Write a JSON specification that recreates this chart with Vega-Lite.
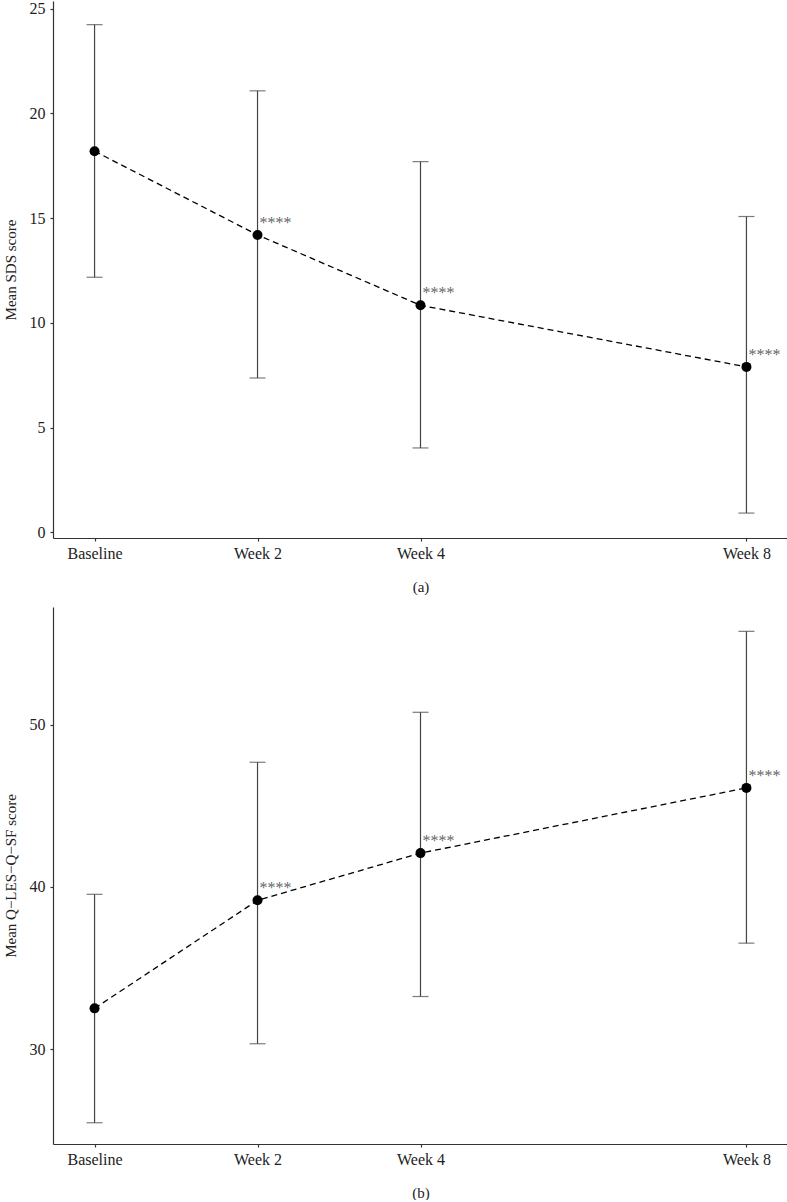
{
  "$schema": "https://vega.github.io/schema/vega-lite/v6.json",
  "padding": {"left": 3, "top": 0, "right": 0, "bottom": 0},
  "spacing": 13,
  "config": {
    "font": "Liberation Serif",
    "view": {"stroke": null},
    "axis": {
      "grid": false,
      "domainColor": "#333",
      "domainWidth": 1.2,
      "tickColor": "#333",
      "tickSize": 3,
      "tickWidth": 1.2,
      "labelFont": "Liberation Serif",
      "titleFont": "Liberation Serif",
      "labelFontSize": 16,
      "labelColor": "#222",
      "titleFontSize": 15,
      "titleFontWeight": "normal",
      "titleColor": "#222"
    },
    "axisY": {"labelPadding": 5, "titlePadding": 11},
    "axisX": {"labelPadding": 4, "titlePadding": 18}
  },
  "datasets": {
    "sds": [
      {"week": 0, "mean": 18.2, "lower": 12.18, "upper": 24.24, "sig": ""},
      {"week": 2, "mean": 14.2, "lower": 7.37, "upper": 21.08, "sig": "****"},
      {"week": 4, "mean": 10.84, "lower": 4.03, "upper": 17.7, "sig": "****"},
      {"week": 8, "mean": 7.9, "lower": 0.92, "upper": 15.08, "sig": "****"}
    ],
    "qles": [
      {"week": 0, "mean": 32.51, "lower": 25.46, "upper": 39.54, "sig": ""},
      {"week": 2, "mean": 39.17, "lower": 30.33, "upper": 47.68, "sig": "****"},
      {"week": 4, "mean": 42.08, "lower": 33.24, "upper": 50.76, "sig": "****"},
      {"week": 8, "mean": 46.1, "lower": 36.53, "upper": 55.75, "sig": "****"}
    ]
  },
  "vconcat": [
    {
      "width": 735,
      "height": 537,
      "data": {"name": "sds"},
      "encoding": {
        "x": {
          "field": "week",
          "type": "quantitative",
          "scale": {"domain": [-0.51, 8.51], "nice": false, "zero": false},
          "axis": {"values": [0, 2, 4, 8], "labelExpr": "datum.value == 0 ? 'Baseline' : 'Week ' + datum.value", "title": "(a)"}
        }
      },
      "layer": [
        {
          "mark": {"type": "rule", "color": "#444", "strokeWidth": 1.2},
          "encoding": {
            "y": {"field": "lower", "type": "quantitative", "title": "Mean SDS score", "scale": {"domain": [-0.27, 25.37], "nice": false, "zero": false}, "axis": {"values": [0, 5, 10, 15, 20, 25]}},
            "y2": {"field": "upper"}
          }
        },
        {
          "mark": {"type": "tick", "orient": "horizontal", "size": 16, "thickness": 1.2, "color": "#444"},
          "encoding": {"y": {"field": "lower", "type": "quantitative", "title": "Mean SDS score", "axis": {"values": [0, 5, 10, 15, 20, 25]}}}
        },
        {
          "mark": {"type": "tick", "orient": "horizontal", "size": 16, "thickness": 1.2, "color": "#444"},
          "encoding": {"y": {"field": "upper", "type": "quantitative", "title": "Mean SDS score", "axis": {"values": [0, 5, 10, 15, 20, 25]}}}
        },
        {
          "mark": {"type": "line", "color": "black", "strokeDash": [6, 4], "strokeWidth": 1.3},
          "encoding": {"y": {"field": "mean", "type": "quantitative", "title": "Mean SDS score", "axis": {"values": [0, 5, 10, 15, 20, 25]}}}
        },
        {
          "mark": {"type": "point", "filled": true, "color": "black", "size": 100, "opacity": 1},
          "encoding": {"y": {"field": "mean", "type": "quantitative", "title": "Mean SDS score", "axis": {"values": [0, 5, 10, 15, 20, 25]}}}
        },
        {
          "mark": {"type": "text", "align": "left", "baseline": "alphabetic", "dx": 2, "dy": -7, "fontSize": 16, "color": "#666", "font": "Liberation Serif"},
          "encoding": {
            "y": {"field": "mean", "type": "quantitative", "title": "Mean SDS score", "axis": {"values": [0, 5, 10, 15, 20, 25]}},
            "text": {"field": "sig"}
          }
        }
      ]
    },
    {
      "width": 735,
      "height": 537,
      "data": {"name": "qles"},
      "encoding": {
        "x": {
          "field": "week",
          "type": "quantitative",
          "scale": {"domain": [-0.51, 8.51], "nice": false, "zero": false},
          "axis": {"values": [0, 2, 4, 8], "labelExpr": "datum.value == 0 ? 'Baseline' : 'Week ' + datum.value", "title": "(b)"}
        }
      },
      "layer": [
        {
          "mark": {"type": "rule", "color": "#444", "strokeWidth": 1.2},
          "encoding": {
            "y": {"field": "lower", "type": "quantitative", "title": "Mean Q−LES−Q−SF score", "scale": {"domain": [24.15, 57.25], "nice": false, "zero": false}, "axis": {"values": [30, 40, 50]}},
            "y2": {"field": "upper"}
          }
        },
        {
          "mark": {"type": "tick", "orient": "horizontal", "size": 16, "thickness": 1.2, "color": "#444"},
          "encoding": {"y": {"field": "lower", "type": "quantitative", "title": "Mean Q−LES−Q−SF score", "axis": {"values": [30, 40, 50]}}}
        },
        {
          "mark": {"type": "tick", "orient": "horizontal", "size": 16, "thickness": 1.2, "color": "#444"},
          "encoding": {"y": {"field": "upper", "type": "quantitative", "title": "Mean Q−LES−Q−SF score", "axis": {"values": [30, 40, 50]}}}
        },
        {
          "mark": {"type": "line", "color": "black", "strokeDash": [6, 4], "strokeWidth": 1.3},
          "encoding": {"y": {"field": "mean", "type": "quantitative", "title": "Mean Q−LES−Q−SF score", "axis": {"values": [30, 40, 50]}}}
        },
        {
          "mark": {"type": "point", "filled": true, "color": "black", "size": 100, "opacity": 1},
          "encoding": {"y": {"field": "mean", "type": "quantitative", "title": "Mean Q−LES−Q−SF score", "axis": {"values": [30, 40, 50]}}}
        },
        {
          "mark": {"type": "text", "align": "left", "baseline": "alphabetic", "dx": 2, "dy": -7, "fontSize": 16, "color": "#666", "font": "Liberation Serif"},
          "encoding": {
            "y": {"field": "mean", "type": "quantitative", "title": "Mean Q−LES−Q−SF score", "axis": {"values": [30, 40, 50]}},
            "text": {"field": "sig"}
          }
        }
      ]
    }
  ]
}
